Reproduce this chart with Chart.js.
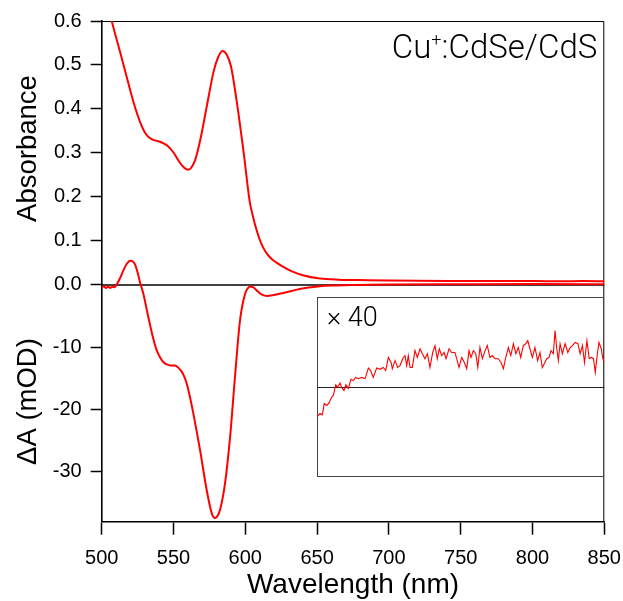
<!DOCTYPE html>
<html>
<head>
<meta charset="utf-8">
<script src="https://cdn.jsdelivr.net/npm/chart.js@4.4.1/dist/chart.umd.min.js"></script>
<style>
  html, body { margin: 0; padding: 0; background: #fff; }
  #wrap { width: 623px; height: 601px; }
</style>
</head>
<body>
<div id="wrap"><canvas id="spectra" width="623" height="601"></canvas></div>
<script>
// steady-state absorbance
const absWl = [500, 504, 507, 510, 513, 517, 522, 527, 531, 535, 540, 543, 546, 550, 553, 556, 558, 560, 562, 565,
  569, 573, 578, 581, 584, 587, 590, 594, 599, 603, 605, 608, 611, 614, 618, 622, 627, 633, 640, 652,
  665, 685, 700, 720, 750, 780, 800, 820, 835, 850];
const absVal = [0.70, 0.645, 0.600, 0.563, 0.527, 0.478, 0.417, 0.368, 0.342, 0.331, 0.326, 0.322, 0.316, 0.301, 0.285, 0.271, 0.265, 0.262, 0.265, 0.283,
  0.335, 0.403, 0.486, 0.517, 0.532, 0.524, 0.497, 0.418, 0.297, 0.191, 0.160, 0.123, 0.095, 0.076, 0.060, 0.050, 0.040, 0.030, 0.022, 0.0145,
  0.0118, 0.0105, 0.0098, 0.0092, 0.0088, 0.0085, 0.0087, 0.0082, 0.0085, 0.0080];

// transient absorption (mOD)
const daWl = [500, 501.5, 503, 504.5, 506, 507.5, 509, 510.5, 513, 515, 517.5, 519.7, 521.5, 523.2, 525, 526.7, 529, 532.5, 535.9, 538,
  540.6, 543, 545.3, 548, 551, 553.5, 555.7, 557.5, 559.2, 561.5, 563.8, 568.5, 573.1, 576.6, 578.9, 580.5, 582.4, 585.9, 589.4, 592.8,
  596.3, 599.8, 602, 603.5, 605.6, 609, 612, 615, 620, 626.5, 638, 652, 660, 675, 700, 750, 800, 850];
const daVal = [-0.38, -0.2, -0.5, -0.25, -0.45, -0.3, -0.35, 0.1, 1.2, 2.3, 3.4, 3.9, 3.8, 3.3, 2.0, 0.4, -1.4, -5.2, -8.6, -10.3,
  -11.6, -12.4, -12.75, -12.9, -12.9, -13.3, -13.9, -14.7, -15.8, -18.0, -20.6, -26.5, -32.9, -36.6, -37.4, -37.1, -36.1, -31.8, -24.4, -14.8,
  -5.7, -1.44, -0.45, -0.25, -0.4, -1.1, -1.6, -1.75, -1.6, -1.3, -0.64, -0.22, -0.1, 0.0, 0.08, 0.12, 0.14, 0.12];

// inset: transient absorption x 40
const insetWl = [650.4, 652, 653.6, 655, 656.7, 658.3, 660.1, 661.3, 663, 664.3,
  666, 667.1, 668.7, 670.1, 671.7, 673.6, 675.2, 676.9, 678.7, 681.1,
  683.4, 685.7, 687.3, 689.1, 691.5, 693.8, 696.1, 697.8, 699.6, 701.5,
  702.4, 704.3, 706.1, 707.7, 710, 711.2, 712.4, 713.5, 714.7, 716.3,
  718.2, 719.8, 721.7, 723.3, 725.1, 726.8, 728.6, 730.5, 732.1, 733.7,
  735.1, 736.8, 738.4, 739.8, 741.9, 743.7, 746, 747.2, 748.8, 750.7,
  752.5, 754.2, 755.8, 757.2, 758.8, 760.5, 761.9, 763.4, 765.1, 767,
  768.5, 770.4, 772, 773.9, 776.2, 778.1, 779.7, 781.4, 783.2, 784.9,
  786.7, 788.4, 790.1, 791.8, 793.6, 795.3, 796.7, 798.2, 799.9, 801.7,
  803.6, 805.2, 806.8, 808.2, 809.9, 811.5, 812.9, 814.5, 815.7, 816.9,
  818, 819.2, 820.8, 822.7, 824.6, 826.2, 827.8, 829.7, 831.6, 833.2,
  834.8, 836.2, 837.9, 839.5, 840.9, 842.5, 843.7, 845.3, 846.3, 847.9,
  848.8, 850];
const insetVal = [-4.7, -4.3, -4.5, -2.7, -3.0, -2.6, -1.7, -1.4, 0.3, -0.1,
  0.6, -0.1, -0.6, 0.3, -0.3, 1.2, 1.0, 1.5, 1.3, 1.5,
  1.3, 3.0, 2.6, 1.5, 3.0, 2.8, 3.1, 2.6, 4.7, 3.9,
  2.9, 4.2, 3.1, 3.4, 4.7, 5.0, 3.4, 5.0, 3.1, 3.1,
  5.8, 4.7, 6.1, 5.3, 4.5, 5.3, 3.1, 5.5, 6.6, 4.5,
  6.1, 5.0, 5.5, 4.5, 6.1, 5.5, 5.5, 4.5, 3.1, 4.7,
  3.9, 2.9, 5.8, 4.7, 5.8, 5.3, 3.1, 6.3, 4.5, 5.8,
  6.6, 4.7, 5.0, 4.5, 4.5, 3.9, 2.9, 4.7, 6.3, 5.0,
  6.9, 5.3, 6.3, 4.7, 6.6, 6.9, 7.4, 6.1, 4.7, 6.3,
  4.2, 5.5, 3.1, 3.7, 4.5, 4.7, 5.8, 5.3, 9.0, 6.1,
  4.2, 6.9, 5.3, 6.9, 5.5, 6.3, 6.6, 7.1, 6.9, 5.3,
  6.6, 3.9, 7.4, 4.5, 4.7, 4.5, 2.3, 5.5, 7.1, 6.1,
  4.7, 3.9];

const xTicks = [500, 550, 600, 650, 700, 750, 800, 850];
const absTicks = [0, 0.1, 0.2, 0.3, 0.4, 0.5, 0.6];
const daTicks = [-30, -20, -10];
const insetSpan = [650, 850];
const insetBox = [-14.4, 14.4];

const RED = '#ff0000';
const FONT = '"Liberation Sans", Arial, Helvetica, sans-serif';
const LIGHT = 'Roboto, "Liberation Sans", sans-serif';

function pts(xs, ys) { return xs.map((x, i) => ({ x: x, y: ys[i] })); }

const decor = {
  id: 'decor',
  // the ΔA axis shares the absorbance axis column; widen its label clip box
  afterLayout(chart) {
    chart.scales.yDA.left = 0;
  },
  beforeDatasetsDraw(chart) {
    const { ctx, chartArea: a, scales: s } = chart;
    ctx.save();
    ctx.strokeStyle = '#000';
    ctx.lineWidth = 1;
    ctx.beginPath();
    ctx.moveTo(a.left, a.top + 0.5);
    ctx.lineTo(a.right - 0.5, a.top + 0.5);
    ctx.lineTo(a.right - 0.5, a.bottom);
    ctx.stroke();

    const y0 = s.yDA.getPixelForValue(0);
    ctx.lineWidth = 1.6;
    ctx.beginPath();
    ctx.moveTo(a.left, y0);
    ctx.lineTo(a.right, y0);
    ctx.stroke();

    // inset frame and its zero line
    const bx0 = s.x.getPixelForValue(insetSpan[0]);
    const bx1 = s.x.getPixelForValue(insetSpan[1]);
    const by0 = s.yInset.getPixelForValue(insetBox[1]);
    const by1 = s.yInset.getPixelForValue(insetBox[0]);
    ctx.strokeStyle = '#444';
    ctx.lineWidth = 1;
    ctx.strokeRect(Math.round(bx0) + 0.5, Math.round(by0) + 0.5, Math.round(bx1 - bx0) - 1, Math.round(by1 - by0));
    const iy0 = Math.round(s.yInset.getPixelForValue(0)) + 0.5;
    ctx.strokeStyle = '#222';
    ctx.beginPath();
    ctx.moveTo(bx0, iy0);
    ctx.lineTo(bx1, iy0);
    ctx.stroke();
    ctx.restore();
  },
  afterDraw(chart) {
    const { ctx, chartArea: a, scales: s } = chart;
    ctx.save();
    ctx.fillStyle = '#000';

    // y titles
    ctx.font = '27.5px ' + FONT;
    ctx.textAlign = 'center';
    ctx.textBaseline = 'middle';
    [['Absorbance', s.yAbs.getPixelForValue(0.31)], ['ΔA (mOD)', s.yDA.getPixelForValue(-18.7)]].forEach(([t, y]) => {
      ctx.save();
      ctx.translate(28, y);
      ctx.rotate(-Math.PI / 2);
      ctx.fillText(t, 0, 0);
      ctx.restore();
    });

    // sample label
    ctx.textAlign = 'left';
    ctx.textBaseline = 'alphabetic';
    const big = '300 33px ' + LIGHT;
    const small = '300 18px ' + LIGHT;
    ctx.font = big;
    const w1 = ctx.measureText('Cu').width;
    const w3 = ctx.measureText(':CdSe/CdS').width;
    ctx.font = small;
    const w2 = ctx.measureText('+').width;
    let x = a.right - 7 - (w1 + w2 + w3);
    const base = a.top + 36.5;
    ctx.font = big;
    ctx.fillText('Cu', x, base);
    x += w1;
    ctx.font = small;
    ctx.fillText('+', x, base - 12);
    x += w2;
    ctx.font = big;
    ctx.fillText(':CdSe/CdS', x, base);

    // inset multiplier
    ctx.font = '300 27px ' + LIGHT;
    ctx.fillText('× 40', s.x.getPixelForValue(insetSpan[0]) + 10, s.yInset.getPixelForValue(insetBox[1]) + 28.5);
    ctx.restore();
  }
};

new Chart(document.getElementById('spectra'), {
  type: 'line',
  data: {
    datasets: [{
      label: 'Absorbance',
      data: pts(absWl, absVal),
      yAxisID: 'yAbs',
      borderColor: RED,
      borderWidth: 2,
      pointRadius: 0,
      cubicInterpolationMode: 'monotone'
    }, {
      label: 'ΔA (mOD)',
      data: pts(daWl, daVal),
      yAxisID: 'yDA',
      borderColor: RED,
      borderWidth: 2,
      pointRadius: 0,
      cubicInterpolationMode: 'monotone'
    }, {
      label: '× 40',
      data: pts(insetWl, insetVal),
      yAxisID: 'yInset',
      borderColor: RED,
      borderWidth: 1.1,
      pointRadius: 0,
      tension: 0
    }]
  },
  options: {
    responsive: false,
    animation: false,
    events: [],
    layout: { padding: { top: 19.5, right: 18.7, left: 0, bottom: 0 } },
    plugins: { legend: { display: false }, tooltip: { enabled: false } },
    scales: {
      x: {
        type: 'linear',
        min: 500,
        max: 850,
        afterFit: s => { s.height = 79.3; s.paddingLeft = 0; s.paddingRight = 0; },
        afterBuildTicks: s => { s.ticks = xTicks.map(v => ({ value: v })); },
        ticks: { color: '#000', font: { family: FONT, size: 20 }, padding: 12, maxRotation: 0, autoSkip: false },
        grid: { drawOnChartArea: false, tickLength: 13, tickWidth: 1.5, tickColor: '#000' },
        border: { color: '#000', width: 1.6 },
        title: { display: true, text: 'Wavelength (nm)', color: '#000', font: { family: FONT, size: 28 }, padding: { top: 0, bottom: -1 } }
      },
      yAbs: {
        position: 'left',
        weight: 1,
        min: -0.5386,
        max: 0.6,
        afterFit: s => { s.width = 101.7; },
        afterBuildTicks: s => { s.ticks = absTicks.map(v => ({ value: v })); },
        ticks: { color: '#000', font: { family: FONT, size: 20 }, padding: 9, autoSkip: false, callback: v => v.toFixed(1) },
        grid: { drawOnChartArea: false, tickLength: 11, tickWidth: 1.5, tickColor: '#000' },
        border: { color: '#000', width: 1.6 }
      },
      yDA: {
        position: 'left',
        weight: 0,
        min: -37.98,
        max: 42.35,
        afterFit: s => { s.width = 0; },
        afterBuildTicks: s => { s.ticks = daTicks.map(v => ({ value: v })); },
        ticks: { color: '#000', font: { family: FONT, size: 20 }, padding: 9, autoSkip: false, callback: v => String(v) },
        grid: { drawOnChartArea: false, tickLength: 11, tickWidth: 1.5, tickColor: '#000' },
        border: { display: false }
      },
      yInset: { display: false, min: -21.66, max: 58.7 }
    }
  },
  plugins: [decor]
});
</script>
</body>
</html>
